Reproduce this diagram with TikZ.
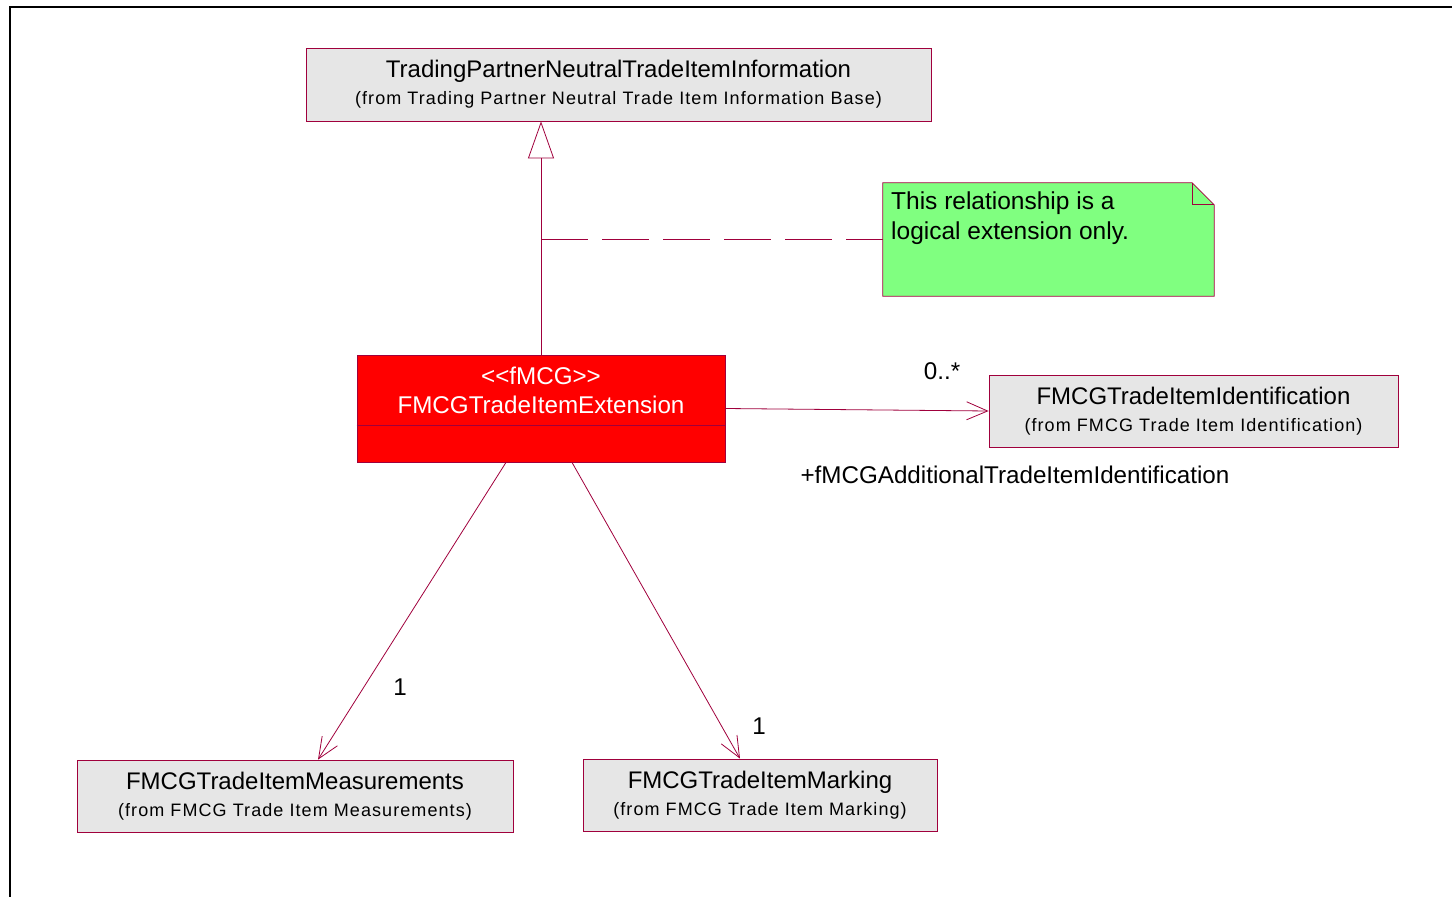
\documentclass[tikz,border=0pt]{standalone}
\usepackage{fontspec}
\setmainfont{Liberation Sans}
\newfontfamily\subfam[LetterSpace=6]{Liberation Sans}
\usetikzlibrary{arrows.meta, positioning}
\definecolor{umlline}{RGB}{160,0,60}
\definecolor{clsgray}{RGB}{230,230,230}
\definecolor{notegreen}{RGB}{128,255,128}
\newcommand{\clsname}[2]{#1\\{\subfam\fontsize{18}{20}\selectfont #2}}
\tikzset{
    x=1pt, y=-1pt, % one unit is one pixel of the original
    every node/.style={font=\fontsize{24.2}{29}\selectfont}, % text size used by all labels
    cls/.style={draw=umlline, fill=clsgray, inner sep=0pt, align=center, line width=0.8pt, font=\fontsize{24}{27}\selectfont}, % plain class boxes
    extbox/.style={draw=umlline, fill=red, inner sep=0pt, line width=0.8pt}, % the stereotyped class
    lbl/.style={inner sep=0pt}, % multiplicities, roles, note text
    link/.style={draw=umlline, line width=0.8pt}, % every connector
    gen/.style={link, -{Triangle[open, length=37pt, width=26pt]}}, % generalization
    assoc/.style={link, -{Straight Barb[length=21pt, width=18pt]}}, % navigable association
    dep/.style={link, dash pattern=on 47pt off 14pt}, % anchor to the note
    frame/.style={line width=2.5pt}, % page border
}
\begin{document}
\begin{tikzpicture}
\useasboundingbox (0,0) rectangle (1452,897);
\draw[frame] (1452,7) -- (10,7) -- (10,897);

% classes
\node[cls, minimum width=625, minimum height=73] (tpn) at (618.5,84.5)
    {\clsname{TradingPartnerNeutralTradeItemInformation}{(from Trading Partner Neutral Trade Item Information Base)}};
\node[extbox, minimum width=368, minimum height=107] (fmcg) at (541,408.5) {};
\node[lbl, align=center, text=white] (fmcgname) at (541,390) {<\kern0pt<fMCG>\kern0pt>\\FMCGTradeItemExtension};
\draw[umlline, line width=0.8pt] ([yshift=-16.5pt]fmcg.west) -- ([yshift=-16.5pt]fmcg.east);
\node[cls, minimum width=409, minimum height=72] (ident) at (1193.5,411)
    {\clsname{FMCGTradeItemIdentification}{(from FMCG Trade Item Identification)}};
\node[cls, minimum width=436, minimum height=72] (meas) at (295,796)
    {\clsname{FMCGTradeItemMeasurements}{(from FMCG Trade Item Measurements)}};
\node[cls, minimum width=354, minimum height=72] (mark) at (760,795)
    {\clsname{FMCGTradeItemMarking}{(from FMCG Trade Item Marking)}};

% note with folded corner
\node[minimum width=331, minimum height=113, inner sep=0pt] (note) at (1048.5,239.5) {};
\filldraw[fill=notegreen, draw=umlline, line width=0.8pt] (note.north west) -- ([xshift=-22pt]note.north east)
    -- ([yshift=-22pt]note.north east) -- (note.south east) -- (note.south west) -- cycle;
\draw[umlline, line width=0.8pt] ([xshift=-22pt]note.north east) -- ([xshift=-22pt,yshift=-22pt]note.north east)
    -- ([yshift=-22pt]note.north east);
\node[lbl, anchor=north west, align=left, font=\fontsize{24.5}{30}\selectfont] (notetext) at (891,192) {This relationship is a\\logical extension only.};

% connectors
\draw[gen] (fmcg.north) -- (fmcg.north |- tpn.south);
\coordinate (gendash) at (fmcg.north |- note.west);
\draw[dep] (gendash) -- (note.west);
\draw[assoc] (fmcg.east) -- (ident.west);
\draw[assoc] ([xshift=-35pt]fmcg.south) -- ([xshift=23pt]meas.north);
\draw[assoc] ([xshift=31pt]fmcg.south) -- ([xshift=-20pt]mark.north);

% multiplicities and role
\node[lbl] (identmult) at (942,371) {0..*};
\node[lbl] (identrole) at (1015,475) {+fMCGAdditionalTradeItemIdentification};
\node[lbl] (measmult) at (400,687) {1};
\node[lbl] (markmult) at (759,726) {1};
\end{tikzpicture}
\end{document}
